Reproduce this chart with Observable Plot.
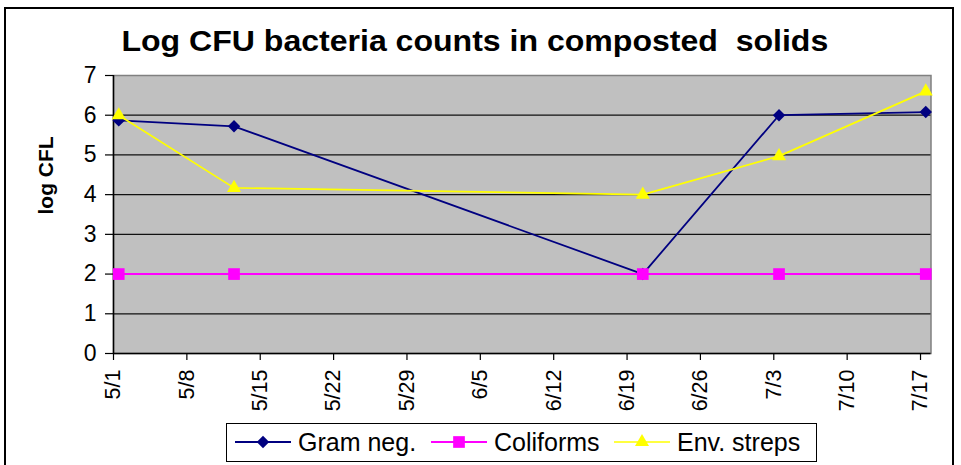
<!DOCTYPE html>
<html>
<head>
<meta charset="utf-8">
<script src="https://cdn.jsdelivr.net/npm/d3@7"></script>
<script src="https://cdn.jsdelivr.net/npm/@observablehq/plot@0.6"></script>
<style>
  html, body { margin: 0; padding: 0; background: #fff; }
  #wrap { position: relative; width: 961px; height: 465px; overflow: hidden; font-family: "Liberation Sans", Arial, sans-serif; color: #000; }
  #border { position: absolute; left: 4px; top: 7px; width: 950px; height: 470px; border: 2px solid #000; box-sizing: border-box; }
  #title { position: absolute; left: 0; width: 949px; top: 27px; text-align: center; font-weight: bold; font-size: 29px; line-height: 1; white-space: pre; }
  #title span { display: inline-block; transform: scaleX(1.105); transform-origin: center; }
  #chart { position: absolute; left: 0; top: 60px; }
  #legend { position: absolute; left: 226px; top: 423px; width: 591px; height: 39px; border: 1.5px solid #000; box-sizing: border-box; background: #fff; }
  .item { position: absolute; top: 0; height: 36px; display: flex; align-items: center; font-size: 25px; white-space: pre; }
  .item svg { margin-right: 7px; }
</style>
</head>
<body>
<div id="wrap">
  <div id="border"></div>
  <div id="title"><span></span></div>
  <div id="chart"></div>
  <div id="legend"></div>
</div>
<script>
// ---- data ----
const titleText = "Log CFU bacteria counts in composted  solids";
const yLabel = "log CFL";
const sampleDates = ["2008-05-01", "2008-05-12", "2008-06-20", "2008-07-03", "2008-07-17"];
const gramNeg   = [5.87, 5.72, 2.0, 6.0, 6.08];
const coliforms = [2.0, 2.0, 2.0, 2.0, 2.0];
const envStreps = [6.0, 4.17, 4.0, 4.97, 6.6];
const seriesNames = ["Gram neg.", "Coliforms", "Env. streps"];
const tickDates = ["2008-05-01","2008-05-08","2008-05-15","2008-05-22","2008-05-29","2008-06-05","2008-06-12","2008-06-19","2008-06-26","2008-07-03","2008-07-10","2008-07-17"];
const tickLabels = ["5/1","5/8","5/15","5/22","5/29","6/5","6/12","6/19","6/26","7/3","7/10","7/17"];
const yTicks = [0, 1, 2, 3, 4, 5, 6, 7];
const xDomain = ["2008-05-01", "2008-07-18"];

// ---- build ----
document.querySelector("#title span").textContent = titleText;

const parse = s => new Date(s + "T00:00:00Z");
// Excel plots each daily point in the middle of its day slot
const rows = sampleDates.map((d, i) => ({
  date: d3.utcHour.offset(parse(d), 12),
  g: gramNeg[i], c: coliforms[i], e: envStreps[i]
}));
const ticks = tickDates.map(parse);

const series = [
  {name: seriesNames[0], key: "g", color: "#000080", symbol: "diamond2", r: 5.6, sw: 1.8},
  {name: seriesNames[1], key: "c", color: "#FF00FF", symbol: "square", r: 6.6, sw: 2},
  {name: seriesNames[2], key: "e", color: "#FFFF00", symbol: "triangle", r: 5.2, sw: 1.7}
];

const seriesMarks = series.flatMap(s => [
  Plot.line(rows, {x: "date", y: s.key, stroke: s.color, strokeWidth: s.sw}),
  Plot.dot(rows, {x: "date", y: s.key, symbol: () => s.symbol, fill: s.color, stroke: "none", r: s.r})
]);

const chart = Plot.plot({
  width: 961,
  height: 360,
  marginTop: 15,
  marginBottom: 67,
  marginLeft: 113,
  marginRight: 30.5,
  style: {fontFamily: "'Liberation Sans', Arial, sans-serif", color: "#000", background: "transparent", overflow: "visible"},
  x: {type: "utc", domain: xDomain.map(parse)},
  y: {domain: [0, 7]},
  symbol: {type: "identity"},
  marks: [
    Plot.frame({fill: "#c0c0c0", stroke: "#808080", strokeWidth: 1.5}),
    Plot.ruleY(yTicks.filter(v => v > 0 && v < 7), {stroke: "#111", strokeWidth: 1.2}),
    Plot.ruleX([parse(xDomain[0])], {stroke: "#000", strokeWidth: 1.5}),
    Plot.ruleY([0], {stroke: "#000", strokeWidth: 1.5}),
    Plot.axisY({ticks: yTicks, tickFormat: d => String(d), tickSize: 8, tickPadding: 9, fontSize: 23, label: null, strokeWidth: 1.2}),
    Plot.axisX({ticks, tickFormat: (d, i) => tickLabels[i], tickRotate: -90, tickSize: 7, tickPadding: 9, fontSize: 21.5, label: null, strokeWidth: 1.2}),
    Plot.text([yLabel], {frameAnchor: "left", dx: -67, rotate: -90, fontWeight: "bold", fontSize: 21}),
    ...seriesMarks
  ]
});
document.getElementById("chart").appendChild(chart);

// ---- legend ----
const legend = document.getElementById("legend");
const itemLeft = [8, 204, 387];
series.forEach((s, i) => {
  const item = document.createElement("div");
  item.className = "item";
  item.style.left = itemLeft[i] + "px";
  const sym = d3.symbol().type(s.symbol === "diamond2" ? d3.symbolDiamond2 : s.symbol === "square" ? d3.symbolSquare : d3.symbolTriangle)
                .size(Math.PI * s.r * s.r)();
  item.innerHTML = `<svg width="56" height="20" viewBox="0 0 56 20"><line x1="0" x2="56" y1="10" y2="10" stroke="${s.color}" stroke-width="${s.sw}"/><path transform="translate(28,10)" d="${sym}" fill="${s.color}"/></svg>`;
  const t = document.createElement("span");
  t.textContent = s.name;
  item.appendChild(t);
  legend.appendChild(item);
});
</script>
</body>
</html>
